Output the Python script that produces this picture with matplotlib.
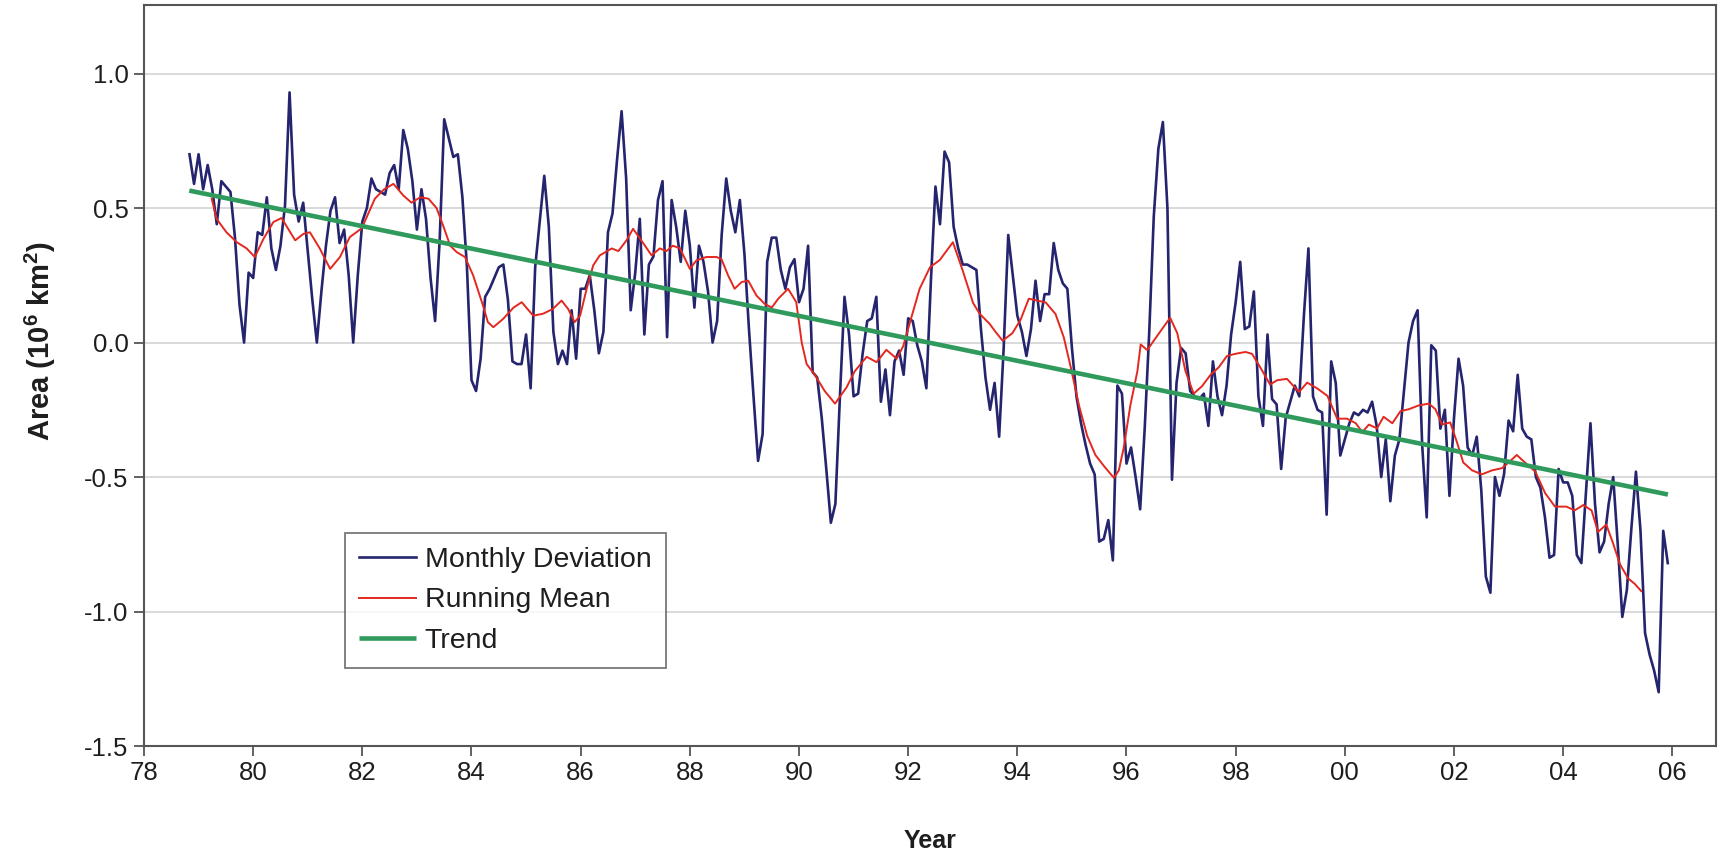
import numpy as np
import pandas as pd
import matplotlib
matplotlib.use("Agg")
import matplotlib.pyplot as plt

# monthly deviation, Nov 1978 .. Dec 2005 (10^6 km^2)
aar_1978 = [0.70, 0.59]
maaned_verdier = {
    1979: [0.70, 0.57, 0.66, 0.57, 0.44, 0.60, 0.58, 0.56, 0.39, 0.14, 0.00, 0.26],
    1980: [0.24, 0.41, 0.40, 0.54, 0.35, 0.27, 0.36, 0.51, 0.93, 0.55, 0.45, 0.52],
    1981: [0.34, 0.16, 0.00, 0.19, 0.36, 0.49, 0.54, 0.37, 0.42, 0.25, 0.00, 0.25],
    1982: [0.45, 0.50, 0.61, 0.57, 0.56, 0.55, 0.63, 0.66, 0.57, 0.79, 0.72, 0.60],
    1983: [0.42, 0.57, 0.46, 0.24, 0.08, 0.38, 0.83, 0.76, 0.69, 0.70, 0.54, 0.28],
    1984: [-0.14, -0.18, -0.06, 0.17, 0.20, 0.24, 0.28, 0.29, 0.16, -0.07, -0.08, -0.08],
    1985: [0.03, -0.17, 0.28, 0.45, 0.62, 0.43, 0.04, -0.08, -0.03, -0.08, 0.12, -0.06],
    1986: [0.20, 0.20, 0.25, 0.12, -0.04, 0.04, 0.41, 0.48, 0.68, 0.86, 0.61, 0.12],
    1987: [0.26, 0.46, 0.03, 0.29, 0.32, 0.53, 0.60, 0.02, 0.53, 0.43, 0.30, 0.49],
    1988: [0.36, 0.13, 0.36, 0.30, 0.19, 0.00, 0.08, 0.40, 0.61, 0.49, 0.41, 0.53],
    1989: [0.33, 0.05, -0.20, -0.44, -0.34, 0.30, 0.39, 0.39, 0.27, 0.20, 0.28, 0.31],
    1990: [0.15, 0.20, 0.36, -0.11, -0.13, -0.28, -0.47, -0.67, -0.60, -0.20, 0.17, 0.03],
    1991: [-0.20, -0.19, -0.04, 0.08, 0.09, 0.17, -0.22, -0.10, -0.27, -0.07, -0.03, -0.12],
    1992: [0.09, 0.08, -0.01, -0.07, -0.17, 0.23, 0.58, 0.44, 0.71, 0.67, 0.43, 0.35],
    1993: [0.29, 0.29, 0.28, 0.27, 0.05, -0.13, -0.25, -0.15, -0.35, -0.02, 0.40, 0.25],
    1994: [0.10, 0.04, -0.05, 0.05, 0.23, 0.08, 0.18, 0.18, 0.37, 0.27, 0.22, 0.20],
    1995: [-0.02, -0.20, -0.30, -0.38, -0.45, -0.49, -0.74, -0.73, -0.66, -0.81, -0.16, -0.19],
    1996: [-0.45, -0.39, -0.50, -0.62, -0.32, 0.04, 0.47, 0.72, 0.82, 0.50, -0.51, -0.15],
    1997: [-0.02, -0.04, -0.18, -0.20, -0.21, -0.19, -0.31, -0.07, -0.20, -0.27, -0.16, 0.03],
    1998: [0.15, 0.30, 0.05, 0.06, 0.19, -0.20, -0.31, 0.03, -0.21, -0.23, -0.47, -0.28],
    1999: [-0.22, -0.16, -0.20, 0.10, 0.35, -0.20, -0.25, -0.26, -0.64, -0.07, -0.15, -0.42],
    2000: [-0.36, -0.30, -0.26, -0.27, -0.25, -0.26, -0.22, -0.31, -0.50, -0.36, -0.59, -0.42],
    2001: [-0.36, -0.18, 0.00, 0.08, 0.12, -0.38, -0.65, -0.01, -0.03, -0.32, -0.25, -0.57],
    2002: [-0.28, -0.06, -0.16, -0.39, -0.42, -0.35, -0.55, -0.87, -0.93, -0.50, -0.57, -0.49],
    2003: [-0.29, -0.33, -0.12, -0.32, -0.35, -0.36, -0.50, -0.54, -0.65, -0.80, -0.79, -0.47],
    2004: [-0.52, -0.52, -0.57, -0.79, -0.82, -0.56, -0.30, -0.60, -0.78, -0.74, -0.60, -0.50],
    2005: [-0.75, -1.02, -0.92, -0.69, -0.48, -0.70, -1.08, -1.16, -1.22, -1.30, -0.70, -0.82],
}

# running mean (decimal year, value)
snitt_aar = [1979.24, 1979.33, 1979.51, 1979.70, 1979.88, 1980.03, 1980.19, 1980.37, 1980.52,
             1980.64, 1980.77, 1980.92, 1981.04, 1981.22, 1981.41, 1981.59, 1981.77, 1981.99,
             1982.23, 1982.40, 1982.57, 1982.75, 1982.90, 1983.06, 1983.21, 1983.36, 1983.48,
             1983.61, 1983.73, 1983.88, 1984.03, 1984.21, 1984.30, 1984.40, 1984.58, 1984.77,
             1984.92, 1985.13, 1985.31, 1985.49, 1985.65, 1985.77, 1985.89, 1985.99, 1986.11,
             1986.23, 1986.35, 1986.57, 1986.69, 1986.84, 1986.96, 1987.11, 1987.30, 1987.45,
             1987.57, 1987.69, 1987.82, 1988.00, 1988.12, 1988.30, 1988.49, 1988.58, 1988.70,
             1988.82, 1988.95, 1989.07, 1989.22, 1989.37, 1989.50, 1989.62, 1989.80, 1989.95,
             1990.05, 1990.14, 1990.29, 1990.47, 1990.66, 1990.87, 1991.02, 1991.24, 1991.42,
             1991.60, 1991.79, 1991.91, 1992.03, 1992.21, 1992.40, 1992.58, 1992.82, 1993.00,
             1993.19, 1993.31, 1993.49, 1993.60, 1993.73, 1993.91, 1994.06, 1994.21, 1994.37,
             1994.52, 1994.70, 1994.85, 1994.98, 1995.13, 1995.28, 1995.43, 1995.59, 1995.77,
             1995.86, 1995.95, 1996.07, 1996.20, 1996.26, 1996.38, 1996.50, 1996.65, 1996.80,
             1996.93, 1997.08, 1997.23, 1997.38, 1997.54, 1997.69, 1997.84, 1997.99, 1998.18,
             1998.30, 1998.45, 1998.63, 1998.76, 1998.94, 1999.16, 1999.31, 1999.49, 1999.68,
             1999.86, 2000.04, 2000.20, 2000.32, 2000.44, 2000.59, 2000.71, 2000.87, 2001.02,
             2001.17, 2001.35, 2001.54, 2001.66, 2001.78, 2001.93, 2002.05, 2002.17, 2002.33,
             2002.51, 2002.70, 2002.88, 2003.00, 2003.15, 2003.30, 2003.49, 2003.67, 2003.85,
             2004.06, 2004.21, 2004.37, 2004.52, 2004.64, 2004.79, 2004.91, 2005.04, 2005.19,
             2005.31, 2005.43]
snitt_verdi = [0.535, 0.46, 0.41, 0.373, 0.35, 0.318, 0.386, 0.448, 0.463,
               0.423, 0.38, 0.404, 0.41, 0.35, 0.274, 0.318, 0.392, 0.425,
               0.535, 0.57, 0.59, 0.547, 0.52, 0.54, 0.535, 0.50, 0.435,
               0.36, 0.336, 0.318, 0.25, 0.138, 0.076, 0.057, 0.088, 0.13,
               0.15, 0.10, 0.107, 0.125, 0.156, 0.125, 0.076, 0.10, 0.20,
               0.287, 0.324, 0.35, 0.34, 0.38, 0.423, 0.38, 0.324, 0.35,
               0.34, 0.36, 0.35, 0.274, 0.305, 0.318, 0.318, 0.31, 0.25,
               0.20, 0.225, 0.23, 0.175, 0.144, 0.13, 0.163, 0.20, 0.15,
               0.00, -0.08, -0.12, -0.18, -0.227, -0.167, -0.107, -0.053, -0.073,
               -0.027, -0.06, -0.013, 0.073, 0.20, 0.28, 0.307, 0.373, 0.267,
               0.147, 0.107, 0.07, 0.04, 0.007, 0.035, 0.085, 0.163, 0.156,
               0.149, 0.106, 0.02, -0.093, -0.234, -0.347, -0.418, -0.46, -0.503,
               -0.475, -0.39, -0.234, -0.106, -0.007, -0.028, 0.007, 0.05, 0.092,
               0.035, -0.106, -0.19, -0.163, -0.12, -0.092, -0.05, -0.042, -0.035,
               -0.042, -0.092, -0.156, -0.14, -0.135, -0.184, -0.149, -0.17, -0.198,
               -0.283, -0.283, -0.30, -0.333, -0.305, -0.319, -0.276, -0.30, -0.255,
               -0.248, -0.234, -0.227, -0.248, -0.305, -0.297, -0.368, -0.446, -0.475,
               -0.49, -0.475, -0.467, -0.446, -0.418, -0.446, -0.48, -0.56, -0.61,
               -0.61, -0.624, -0.604, -0.624, -0.704, -0.677, -0.744, -0.824, -0.877,
               -0.897, -0.924]

# trend line end points
trend_aar = [1978.83, 2005.92]
trend_verdi = [0.565, -0.565]

avvik = aar_1978 + [v for aar in sorted(maaned_verdier) for v in maaned_verdier[aar]]
datoer = pd.date_range("1978-11-01", periods=len(avvik), freq="MS")
aar_des = datoer.year + (datoer.month - 1) / 12.0

plt.rcParams['font.family'] = ['Liberation Sans', 'DejaVu Sans']
plt.rcParams['axes.unicode_minus'] = False
plt.rcParams['mathtext.fontset'] = 'custom'
plt.rcParams['mathtext.rm'] = 'Liberation Sans'
plt.rcParams['mathtext.bf'] = 'Liberation Sans:bold'

fig = plt.figure(figsize=(17.27, 8.59), dpi=100)
ax = fig.add_axes([144 / 1727, 113 / 859, 1572 / 1727, 741 / 859])

ax.plot(aar_des, avvik, color="#24246f", lw=1.9, label="Monthly Deviation")
ax.plot(snitt_aar, snitt_verdi, color="#e3281f", lw=1.4, label="Running Mean")
ax.plot(trend_aar, trend_verdi, color="#2f9a5c", lw=3.3, solid_capstyle="butt", label="Trend")

ax.set_xlim(1978, 2006.8)
ax.set_ylim(-1.5, 1.255)
xt = np.arange(1978, 2007, 2)
ax.set_xticks(xt)
ax.set_xticklabels(["%02d" % (y % 100) for y in xt])
yt = np.arange(-1.5, 1.01, 0.5)
ax.set_yticks(yt)
ax.set_yticklabels(["%.1f" % v for v in yt])

ax.yaxis.grid(True, color="#cfcfcf", lw=1.1)
ax.set_axisbelow(True)
for s in ax.spines.values():
    s.set_color("#555555")
    s.set_linewidth(1.5)
ax.tick_params(direction="out", length=7, width=1.3, color="#555555",
               labelsize=18.5, labelcolor="#1e1e1e", pad=4)

ax.set_xlabel("Year", fontsize=18, fontweight="bold", color="#1e1e1e")
ax.xaxis.set_label_coords(0.5, -0.112)
ax.set_ylabel(r"Area (10$^{\mathbf{6}}$ km$^{\mathbf{2}}$)", fontsize=21,
              fontweight="bold", color="#1e1e1e")
ax.yaxis.set_label_coords(-0.055, 0.547)

leg = ax.legend(loc="upper left", bbox_to_anchor=(345 / 1727, 1 - 533 / 859),
                bbox_transform=fig.transFigure, fontsize=20.5, frameon=True,
                fancybox=False, edgecolor="#555555", handlelength=2.0,
                handletextpad=0.3, labelspacing=0.5, borderpad=0.5,
                borderaxespad=0)
leg.get_frame().set_linewidth(1.3)
for t in leg.get_texts():
    t.set_color("#1e1e1e")

fig.savefig("out.png", dpi=100, facecolor="white")
